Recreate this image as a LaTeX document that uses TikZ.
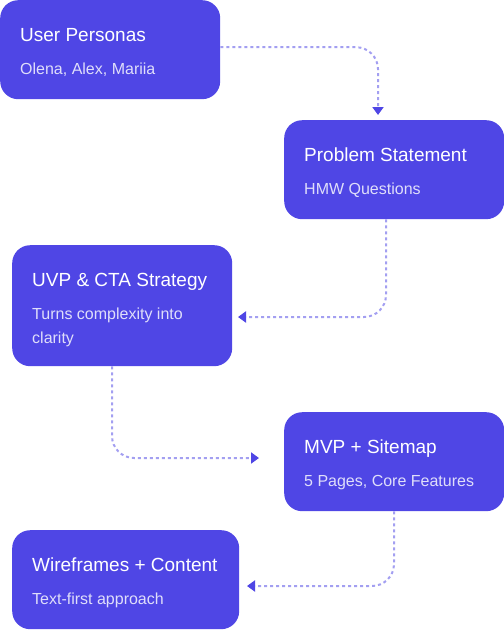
\documentclass[tikz,border=0pt]{standalone}
\usepackage{fontspec}
\setmainfont{Liberation Sans}
\usetikzlibrary{arrows.meta,calc}
\definecolor{boxcol}{HTML}{4F46E5}
\begin{document}
\begin{tikzpicture}[x=1pt,y=-1pt,
  box/.style={draw=none, fill=boxcol, rounded corners=18pt, anchor=north west, inner sep=0pt, minimum height=99pt, minimum width=220pt},
  ttl/.style={anchor=base west, inner sep=0pt, text=white, font=\fontsize{19}{22}\selectfont},
  sub/.style={anchor=base west, inner sep=0pt, text=white!82!boxcol, font=\fontsize{16}{24}\selectfont, align=left},
  conn/.style={draw=boxcol!52!white, line width=2pt, dash pattern=on 3pt off 3pt, rounded corners=22pt, -{Triangle[length=8pt,width=11pt,color=boxcol,fill=boxcol]}}
]
\useasboundingbox (0,0) rectangle (504,630);

\node[box] (b1) at (0,0) {};
\node[box] (b2) at (284,120) {};
\node[box, minimum height=121pt] (b3) at (12,245) {};
\node[box] (b4) at (284,412) {};
\node[box, minimum width=227pt] (b5) at (12,530) {};

\node[ttl] (b1t) at ($(b1.north west)+(20,41)$) {User Personas};
\node[sub] (b1s) at ($(b1.north west)+(20,74)$) {Olena, Alex, Mariia};
\node[ttl] (b2t) at ($(b2.north west)+(20,41)$) {Problem Statement};
\node[sub] (b2s) at ($(b2.north west)+(20,74)$) {HMW Questions};
\node[ttl] (b3t) at ($(b3.north west)+(20,41)$) {UVP \& CTA Strategy};
\node[sub] (b3s) at ($(b3.north west)+(20,98)$) {Turns complexity into\\clarity};
\node[ttl] (b4t) at ($(b4.north west)+(20,41)$) {MVP + Sitemap};
\node[sub] (b4s) at ($(b4.north west)+(20,74)$) {5 Pages, Core Features};
\node[ttl] (b5t) at ($(b5.north west)+(20,41)$) {Wireframes + Content};
\node[sub] (b5s) at ($(b5.north west)+(20,74)$) {Text-first approach};

\coordinate (t1) at (378,115);
\coordinate (s2) at (386,0);
\coordinate (t2) at (238,317);
\coordinate (s3) at (112,0);
\coordinate (t3) at (259,458);
\coordinate (s4) at (394,0);
\coordinate (t4) at (247,586);

\draw[conn] ([yshift=2.5pt]b1.east) -| (t1);
\draw[conn] (b2.south -| s2) |- (t2);
\draw[conn] (b3.south -| s3) |- (t3);
\draw[conn] (b4.south -| s4) |- (t4);
\end{tikzpicture}
\end{document}
